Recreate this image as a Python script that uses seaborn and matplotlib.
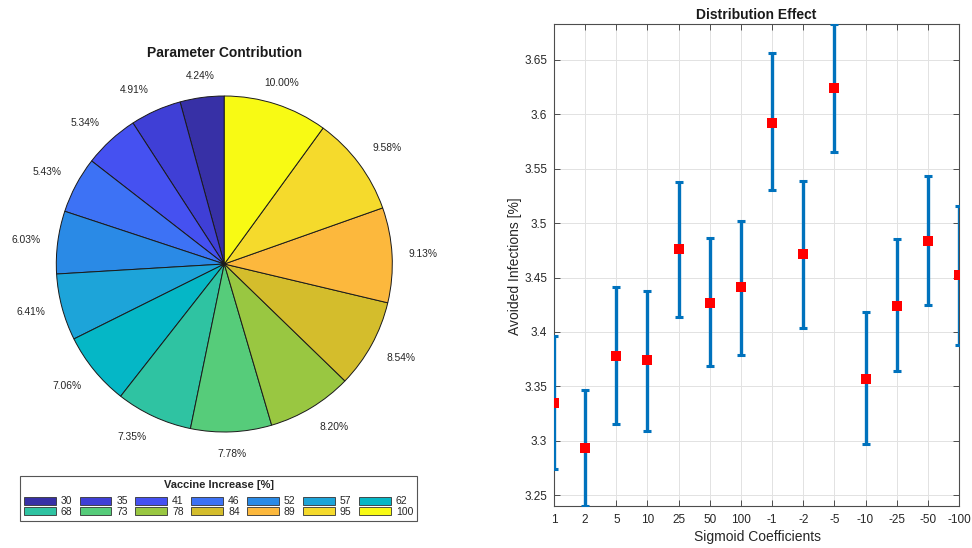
import numpy as np
import pandas as pd
import matplotlib
matplotlib.use("Agg")
import matplotlib.pyplot as plt
from matplotlib.lines import Line2D
import seaborn as sns

# ---- pie data: share of each vaccine-increase level ----
vaccine_levels = ["30", "35", "41", "46", "52", "57", "62",
                  "68", "73", "78", "84", "89", "95", "100"]
contribution = [4.24, 4.91, 5.34, 5.43, 6.03, 6.41, 7.06,
                7.35, 7.78, 8.20, 8.54, 9.13, 9.58, 10.00]
level_colors = ["#3730A6", "#3F3FD6", "#4551F1", "#3D72F5", "#2A8AE6",
                "#1DA4D9", "#05B7C6", "#2FC3A2", "#56CC7A", "#99C741",
                "#D4BD2C", "#FCB83D", "#F5DA2C", "#F8FA14"]

# ---- error-bar data: avoided infections per sigmoid coefficient ----
sigmoid_coeffs = ["1", "2", "5", "10", "25", "50", "100",
                  "-1", "-2", "-5", "-10", "-25", "-50", "-100"]
avoided_mean = [3.335, 3.293, 3.378, 3.374, 3.476, 3.427, 3.441,
                3.592, 3.472, 3.624, 3.357, 3.424, 3.484, 3.452]
avoided_low = [3.274, 3.240, 3.315, 3.309, 3.414, 3.369, 3.379,
               3.530, 3.404, 3.565, 3.297, 3.364, 3.425, 3.388]
avoided_high = [3.396, 3.347, 3.441, 3.438, 3.538, 3.486, 3.502,
                3.656, 3.539, 3.683, 3.418, 3.485, 3.543, 3.516]
y_ticks = [3.25, 3.30, 3.35, 3.40, 3.45, 3.50, 3.55, 3.60, 3.65]

sns.set_theme(style="whitegrid")
plt.rcParams["font.family"] = ["Liberation Sans", "DejaVu Sans"]
plt.rcParams["text.color"] = "#262626"

W, H = 972, 548
fig = plt.figure(figsize=(W / 100, H / 100), dpi=100)
fig.patch.set_facecolor("white")


def fx(px):
    return px / W


def fy(py):
    return 1 - py / H


# ================= left: pie =================
R_PX = 168.0
CX, CY = 224.3, 264.0
L = 1.3
side = 2 * L * R_PX
ax_pie = fig.add_axes([fx(CX - side / 2), fy(CY + side / 2),
                       side / W, side / H])
wedges, _ = ax_pie.pie(
    contribution, colors=level_colors, startangle=90, counterclock=True,
    radius=1.0,
    wedgeprops=dict(edgecolor="#1a1a1a", linewidth=0.7),
)
ax_pie.set_xlim(-L, L)
ax_pie.set_ylim(-L, L)
ax_pie.set_aspect("equal")
ax_pie.axis("off")

for w, val in zip(wedges, contribution):
    ang = np.deg2rad((w.theta1 + w.theta2) / 2)
    c, s = np.cos(ang), np.sin(ang)
    x, y = 1.1 * c, 1.1 * s
    ha = "center" if abs(c) < 0.35 else ("left" if c > 0 else "right")
    va = "bottom" if s > 0.3 else ("top" if s < -0.3 else "center")
    ax_pie.text(x, y, f"{val:.2f}%", ha=ha, va=va, fontsize=7.4,
                color="#262626")

fig.text(fx(CX), fy(53.3), "Parameter Contribution", ha="center",
         va="center", fontsize=10, fontweight="bold", color="#1a1a1a")

# legend laid out row by row (7 columns x 2 rows)
ncol = 7
order = []
for c_i in range(ncol):
    order += [c_i, c_i + ncol]
handles = [plt.Rectangle((0, 0), 1, 1, facecolor=level_colors[i],
                         edgecolor="#333333", linewidth=0.6) for i in order]
labels = [vaccine_levels[i] for i in order]
leg = fig.legend(
    handles, labels, ncol=ncol, loc="lower center",
    bbox_to_anchor=(fx(218.5), fy(521)), bbox_transform=fig.transFigure,
    title="Vaccine Increase [%]",
    title_fontproperties=dict(weight="bold", size=8),
    fontsize=7.5, frameon=True, fancybox=False, shadow=False,
    handlelength=3.05, handleheight=0.85, handletextpad=0.48,
    columnspacing=0.72, labelspacing=0.05, borderpad=0.4,
    borderaxespad=0,
)
# extra room between the title row and the entries
leg._legend_box.sep = 4.5
leg.get_frame().set_edgecolor("#555555")
leg.get_frame().set_linewidth(0.8)
leg.get_frame().set_alpha(1)

# ================= right: error bars =================
ax = fig.add_axes([fx(554), fy(506), (959 - 554) / W, (506 - 24) / H])
pos = np.arange(len(sigmoid_coeffs))
df = pd.DataFrame({"pos": pos, "coef": sigmoid_coeffs,
                   "mean": avoided_mean, "low": avoided_low,
                   "high": avoided_high})
ax.errorbar(df["pos"], df["mean"],
            yerr=[df["mean"] - df["low"], df["high"] - df["mean"]],
            fmt="none", ecolor="#0072BD", elinewidth=2.4, capsize=3.2,
            capthick=2.2, zorder=3)
sns.scatterplot(data=df, x="pos", y="mean", marker="s", color="#FF0000",
                edgecolor="#FF0000", s=52, linewidth=0, ax=ax, zorder=4,
                legend=False)

ax.set_xlim(pos[0], pos[-1])
ax.set_ylim(min(avoided_low), max(avoided_high))
ax.set_xticks(pos)
ax.set_xticklabels(sigmoid_coeffs)
ax.set_yticks(y_ticks)
ax.set_yticklabels([f"{v:.2f}".rstrip("0").rstrip(".") for v in y_ticks])
ax.set_xlabel("")
ax.set_ylabel("")
ax.set_facecolor("white")
ax.grid(True, color="#e2e2e2", linewidth=0.7)
for sp in ax.spines.values():
    sp.set_visible(True)
    sp.set_color("#4d4d4d")
    sp.set_linewidth(0.8)
ax.tick_params(axis="both", direction="in", length=4, width=0.7,
               colors="#4d4d4d", labelcolor="#262626", labelsize=8.5,
               top=True, right=True, bottom=True, left=True)
ax.tick_params(axis="x", pad=6)
ax.tick_params(axis="y", pad=5)

fig.text(fx(756.5), fy(15), "Distribution Effect", ha="center",
         va="center", fontsize=10, fontweight="bold", color="#1a1a1a")
fig.text(fx(757), fy(536.7), "Sigmoid Coefficients", ha="center",
         va="center", fontsize=10, color="#262626")
fig.text(fx(515), fy(266), "Avoided Infections [%]", ha="center",
         va="center", rotation=90, fontsize=10, color="#262626")

# thin rule under the legend title
fig.canvas.draw()
r = fig.canvas.get_renderer()
lb = leg.get_window_extent(r)
tb = leg.get_title().get_window_extent(r)
ly = (tb.y0 + tb.y1) / 2 - 6.5
fig.add_artist(Line2D([lb.x0 / W, lb.x1 / W], [ly / H, ly / H],
                      transform=fig.transFigure, color="#555555",
                      linewidth=0.8))

fig.savefig("out.png", dpi=100, facecolor="white")
